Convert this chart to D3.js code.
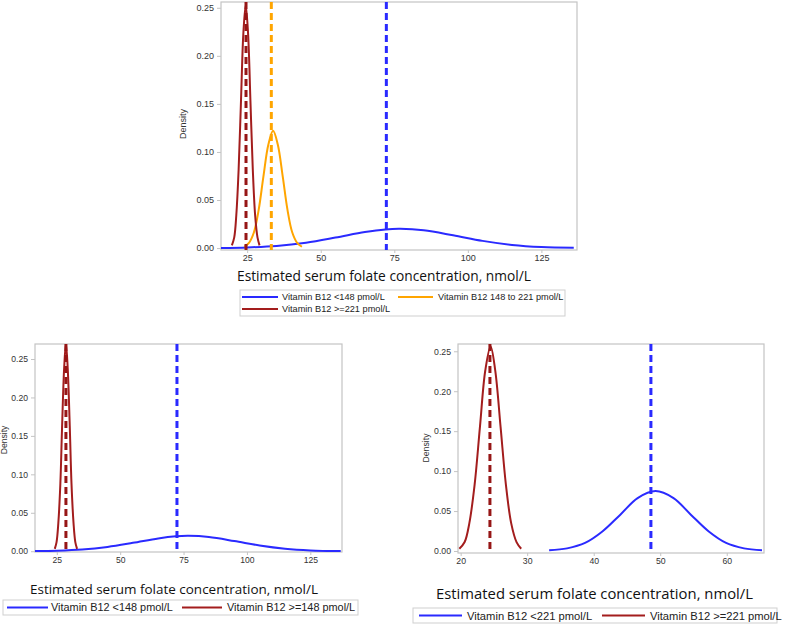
<!DOCTYPE html>
<html>
<head>
<meta charset="utf-8">
<script src="https://cdn.jsdelivr.net/npm/d3@7"></script>
<style>
  body { margin: 0; background: #fff; }
  svg { display: block; }
</style>
</head>
<body>
<svg id="chart" width="789" height="628"></svg>
<script>
// ---------------- DATA ----------------
const densityTicks = [0, 0.05, 0.10, 0.15, 0.20, 0.25];
const xTicksWide = [25, 50, 75, 100, 125];
const xTicksNarrow = [20, 30, 40, 50, 60];
const axisTitle = "Estimated serum folate concentration, nmol/L";
const yTitle = "Density";

// Panel A (top): three B12 groups
const aLegend = ["Vitamin B12 <148 pmol/L", "Vitamin B12 148 to 221 pmol/L", "Vitamin B12 >=221 pmol/L"];
const aBlueX = [16, 25, 35, 45, 55, 65, 72, 77, 85, 95, 105, 115, 125, 136];
const aBlueY = [0.0002, 0.0007, 0.0022, 0.0056, 0.0109, 0.0167, 0.0194, 0.0200, 0.0185, 0.0133, 0.0075, 0.0033, 0.0011, 0.0003];
const aOrangeX = [24.0, 25.6, 27.3, 28.9, 30.5, 32.2, 33.8, 35.4, 37.1, 38.7, 40.3, 42.0, 43.6];
const aOrangeY = [0.0014, 0.0054, 0.0165, 0.0397, 0.0740, 0.1077, 0.1220, 0.1077, 0.0740, 0.0397, 0.0165, 0.0054, 0.0014];
const aRedX = [19.8, 20.6, 21.3, 22.1, 22.9, 23.7, 24.5, 25.3, 26.1, 26.9, 27.7, 28.5, 29.2];
const aRedY = [0.0028, 0.0111, 0.0342, 0.0822, 0.1535, 0.2233, 0.2530, 0.2233, 0.1535, 0.0822, 0.0342, 0.0111, 0.0028];
const aMeans = [72.3, 33.2, 24.6]; // blue, orange, red dashed lines

// Panel B (bottom left): two groups split at 148
const bLegend = ["Vitamin B12 <148 pmol/L", "Vitamin B12 >=148 pmol/L"];
const bBlueX = [16, 25, 35, 45, 55, 65, 72, 77, 85, 95, 105, 115, 125, 137];
const bBlueY = [0.0002, 0.0007, 0.0022, 0.0056, 0.0109, 0.0167, 0.0194, 0.0200, 0.0185, 0.0133, 0.0075, 0.0033, 0.0011, 0.0002];
const bRedX = [24.2, 24.9, 25.6, 26.4, 27.1, 27.9, 28.6, 29.3, 30.1, 30.8, 31.6, 32.3, 33.0];
const bRedY = [0.0030, 0.0119, 0.0365, 0.0877, 0.1638, 0.2383, 0.2700, 0.2383, 0.1638, 0.0877, 0.0365, 0.0119, 0.0030];
const bMeans = [72.4, 28.6];

// Panel C (bottom right): two groups split at 221
const cLegend = ["Vitamin B12 <221 pmol/L", "Vitamin B12 >=221 pmol/L"];
const cBlueX = [33.3, 36.0, 38.7, 41.3, 44.0, 46.6, 49.3, 52.0, 54.6, 57.3, 59.9, 62.6, 65.3];
const cBlueY = [0.0008, 0.0033, 0.0101, 0.0244, 0.0455, 0.0662, 0.0750, 0.0662, 0.0455, 0.0244, 0.0101, 0.0033, 0.0008];
const cRedX = [19.8, 20.6, 21.3, 22.1, 22.9, 23.7, 24.5, 25.2, 26.0, 26.8, 27.6, 28.4, 29.1];
const cRedY = [0.0028, 0.0112, 0.0346, 0.0831, 0.1553, 0.2259, 0.2560, 0.2259, 0.1553, 0.0831, 0.0346, 0.0112, 0.0028];
const cMeans = [48.6, 24.4];

// ---------------- STYLE ----------------
const BLUE = "#2a2aff", ORANGE = "#ffa500", RED = "#a31d1d", RED_D = "#961616";
const FRAME = "#c4c4c4";
const svg = d3.select("#chart");
const zip = (xs, ys) => xs.map((x, i) => [x, ys[i]]);

function panel(o) {
  const g = svg.append("g");
  const x = d3.scaleLinear().domain(o.xDomain).range([o.left, o.right]);
  const y = d3.scaleLinear().domain(o.yDomain).range([o.bottom, o.top]);

  // frame
  g.append("rect").attr("x", o.left).attr("y", o.top)
    .attr("width", o.right - o.left).attr("height", o.bottom - o.top)
    .attr("fill", "none").attr("stroke", FRAME).attr("stroke-width", 1.2);

  // axes
  const xa = g.append("g").attr("transform", `translate(0,${o.bottom})`)
    .call(d3.axisBottom(x).tickValues(o.xTicks).tickSize(3).tickPadding(2).tickFormat(d3.format("d")));
  const ya = g.append("g").attr("transform", `translate(${o.left},0)`)
    .call(d3.axisLeft(y).tickValues(densityTicks).tickSize(4).tickPadding(3).tickFormat(d3.format(".2f")));
  [xa, ya].forEach(a => {
    a.select(".domain").remove();
    a.selectAll(".tick line").attr("stroke", FRAME);
    a.selectAll(".tick text").attr("fill", "#333").attr("font-family", "Liberation Sans, Arial, sans-serif")
      .attr("font-size", o.tickFont);
  });

  // y title
  g.append("text").attr("transform", `translate(${o.yTitleX},${o.yTitleY}) rotate(-90)`)
    .attr("text-anchor", "middle").attr("font-family", "Liberation Sans, Arial, sans-serif")
    .attr("font-size", o.tickFont).attr("fill", "#333").text(yTitle);

  const clip = "clip" + Math.round(o.left) + Math.round(o.top);
  g.append("clipPath").attr("id", clip).append("rect")
    .attr("x", o.left).attr("y", o.top).attr("width", o.right - o.left).attr("height", o.bottom - o.top);
  const plot = g.append("g").attr("clip-path", `url(#${clip})`);

  const line = d3.line().x(d => x(d[0])).y(d => y(d[1])).curve(d3.curveCatmullRom.alpha(0.5));
  o.curves.forEach(c => {
    plot.append("path").datum(c.pts).attr("d", line).attr("fill", "none")
      .attr("stroke", c.color).attr("stroke-width", 2).attr("stroke-linejoin", "round");
  });
  o.means.forEach(m => {
    plot.append("line").attr("x1", x(m.v)).attr("x2", x(m.v)).attr("y1", o.top).attr("y2", o.bottom)
      .attr("stroke", m.color).attr("stroke-width", 3).attr("stroke-dasharray", "7,4");
  });

  // x title
  g.append("text").attr("x", o.titleX0).attr("y", o.titleY)
    .attr("font-family", "Open Sans, Noto Sans, sans-serif").attr("font-size", o.titleFont)
    .attr("fill", "#111").attr("textLength", o.titleW).attr("lengthAdjust", "spacingAndGlyphs")
    .text(axisTitle);

  // legend
  const L = o.legend;
  g.append("rect").attr("x", L.x0).attr("y", L.y0).attr("width", L.x1 - L.x0).attr("height", L.y1 - L.y0)
    .attr("fill", "#fff").attr("stroke", "#cfcfcf").attr("stroke-width", 1);
  L.items.forEach(it => {
    g.append("line").attr("x1", it.lx0).attr("x2", it.lx1).attr("y1", it.y).attr("y2", it.y)
      .attr("stroke", it.color).attr("stroke-width", 2);
    g.append("text").attr("x", it.tx).attr("y", it.y + L.font * 0.36)
      .attr("font-family", "Liberation Sans, Arial, sans-serif").attr("font-size", L.font)
      .attr("fill", "#222").text(it.label);
  });
}

// Panel A
panel({
  left: 221, right: 577, top: 2, bottom: 250,
  xDomain: [16.1, 137.1], yDomain: [-0.002, 0.256], xTicks: xTicksWide, tickFont: 9,
  yTitleX: 186, yTitleY: 124,
  curves: [
    { pts: zip(aBlueX, aBlueY), color: BLUE },
    { pts: zip(aOrangeX, aOrangeY), color: ORANGE },
    { pts: zip(aRedX, aRedY), color: RED }
  ],
  means: [{ v: aMeans[0], color: BLUE }, { v: aMeans[1], color: ORANGE }, { v: aMeans[2], color: RED_D }],
  titleX0: 237, titleY: 281, titleW: 294, titleFont: 14,
  legend: { x0: 240, y0: 290, x1: 565, y1: 316, font: 9.2, items: [
    { lx0: 242, lx1: 278, tx: 282, y: 297, color: BLUE, label: aLegend[0] },
    { lx0: 398, lx1: 433, tx: 438, y: 297, color: ORANGE, label: aLegend[1] },
    { lx0: 242, lx1: 278, tx: 282, y: 309, color: RED, label: aLegend[2] }
  ] }
});

// Panel B
panel({
  left: 35, right: 342, top: 344, bottom: 552,
  xDomain: [16.4, 137.5], yDomain: [-0.001, 0.2695], xTicks: xTicksWide, tickFont: 8.6,
  yTitleX: 7, yTitleY: 440,
  curves: [
    { pts: zip(bBlueX, bBlueY), color: BLUE },
    { pts: zip(bRedX, bRedY), color: RED }
  ],
  means: [{ v: bMeans[0], color: BLUE }, { v: bMeans[1], color: RED_D }],
  titleX0: 30, titleY: 594, titleW: 288, titleFont: 13,
  legend: { x0: 3, y0: 600, x1: 358, y1: 615, font: 10.9, items: [
    { lx0: 7, lx1: 48, tx: 51, y: 607.5, color: BLUE, label: bLegend[0] },
    { lx0: 182, lx1: 222, tx: 227, y: 607.5, color: RED, label: bLegend[1] }
  ] }
});

// Panel C
panel({
  left: 458, right: 764, top: 344, bottom: 553,
  xDomain: [19.6, 65.6], yDomain: [-0.0025, 0.2591], xTicks: xTicksNarrow, tickFont: 8.7,
  yTitleX: 429, yTitleY: 448,
  curves: [
    { pts: zip(cBlueX, cBlueY), color: BLUE },
    { pts: zip(cRedX, cRedY), color: RED }
  ],
  means: [{ v: cMeans[0], color: BLUE }, { v: cMeans[1], color: RED_D }],
  titleX0: 436, titleY: 599, titleW: 317, titleFont: 15,
  legend: { x0: 413, y0: 608, x1: 777, y1: 623, font: 11.2, items: [
    { lx0: 419, lx1: 462, tx: 467, y: 615.5, color: BLUE, label: cLegend[0] },
    { lx0: 602, lx1: 645, tx: 650, y: 615.5, color: RED, label: cLegend[1] }
  ] }
});
</script>
</body>
</html>
